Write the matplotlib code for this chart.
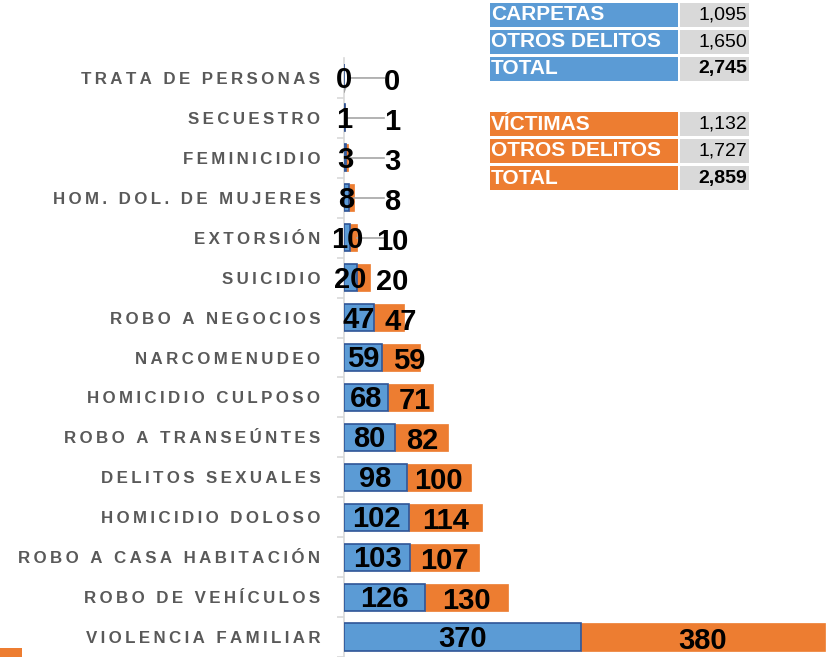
import matplotlib
matplotlib.use("Agg")
import matplotlib.pyplot as plt
from matplotlib.patches import Rectangle
import numpy as np

categorias = ["VIOLENCIA FAMILIAR", "ROBO DE VEHÍCULOS", "ROBO A CASA HABITACIÓN",
              "HOMICIDIO DOLOSO", "DELITOS SEXUALES", "ROBO A TRANSEÚNTES",
              "HOMICIDIO CULPOSO", "NARCOMENUDEO", "ROBO A NEGOCIOS", "SUICIDIO",
              "EXTORSIÓN", "HOM. DOL. DE MUJERES", "FEMINICIDIO", "SECUESTRO",
              "TRATA DE PERSONAS"]
carpetas = [370, 126, 103, 102, 98, 80, 68, 59, 47, 20, 10, 8, 3, 1, 0]
victimas = [380, 130, 107, 114, 100, 82, 71, 59, 47, 20, 10, 8, 3, 1, 0]

tabla_carpetas = [("CARPETAS", "1,095"), ("OTROS DELITOS", "1,650"), ("TOTAL", "2,745")]
tabla_victimas = [("VÍCTIMAS", "1,132"), ("OTROS DELITOS", "1,727"), ("TOTAL", "2,859")]

AZUL = "#5b9bd5"
NARANJA = "#ed7d31"
GRIS = "#595959"

fig = plt.figure(figsize=(8.26, 6.57), dpi=100)
ax = fig.add_axes([344 / 826, 0.0, 482 / 826, 1 - 58 / 657])

y = np.arange(len(categorias))
c = np.array(carpetas)
v = np.array(victimas)
ax.barh(y, c, height=0.68, color=AZUL, edgecolor="#2f5597", linewidth=1.2, zorder=3)
ax.barh(y, v, left=c, height=0.68, color=NARANJA, edgecolor=NARANJA, linewidth=0.5, zorder=2)

ax.set_xlim(0, 752)
ax.set_ylim(-0.42, len(categorias) - 0.5)

num_kw = dict(fontsize=21, fontweight="bold", family="Liberation Sans",
              color="black", zorder=5)
for i in range(len(categorias)):
    ax.text(c[i] / 2, y[i] - 0.05, str(carpetas[i]), ha="center", va="center", **num_kw)
    xc = c[i] + v[i] / 2
    if v[i] <= 20:
        xl = 75
        if v[i] <= 10:
            ax.plot([c[i] + v[i], c[i] + v[i] + 8, xl - 12],
                    [y[i] - 0.35 * (v[i] == 0), y[i], y[i]],
                    color="#a6a6a6", linewidth=1.2, zorder=4)
    else:
        xl = max(xc, c[i] + 42)
    ax.text(xl, y[i] - 0.1, str(victimas[i]), ha="center", va="center", **num_kw)

ax.set_yticks(y - 0.5, minor=False)
ax.set_yticklabels([])
ax.tick_params(axis="y", length=5, color="#d9d9d9", width=1.2, direction="out")
ax.set_yticks(y, minor=True)
ax.set_yticklabels(["\u2009".join(list(s)) for s in categorias], minor=True,
                   fontsize=12.2, fontweight="bold", color=GRIS, family="Liberation Sans")
ax.tick_params(axis="y", which="minor", length=0, pad=17)
ax.set_xticks([])
for s in ["top", "right", "bottom"]:
    ax.spines[s].set_visible(False)
ax.spines["left"].set_color("#d9d9d9")
ax.spines["left"].set_linewidth(1.2)


def dibujar_tabla(filas, color, top):
    h = 24 / 657
    paso = 27 / 657
    for k, (nombre, valor) in enumerate(filas):
        y0 = 1 - (top + 24) / 657 - k * paso
        fig.patches.append(Rectangle((490 / 826, y0), 188 / 826, h, transform=fig.transFigure,
                                     facecolor=color, edgecolor="none"))
        fig.patches.append(Rectangle((680 / 826, y0), 69 / 826, h, transform=fig.transFigure,
                                     facecolor="#d9d9d9", edgecolor="none"))
        fig.text(491 / 826, y0 + h / 2, nombre, color="white", fontsize=15,
                 fontweight="bold", family="Liberation Sans", va="center", ha="left")
        fig.text(747 / 826, y0 + h / 2, valor, color="black", fontsize=14,
                 fontweight="bold" if nombre == "TOTAL" else "normal",
                 family="Liberation Sans", va="center", ha="right")


dibujar_tabla(tabla_carpetas, AZUL, 3)
dibujar_tabla(tabla_victimas, NARANJA, 112)

# trozo de la leyenda abajo a la izquierda
fig.patches.append(Rectangle((0, 0), 22 / 826, 9 / 657, transform=fig.transFigure,
                             facecolor=NARANJA, edgecolor="none"))

fig.savefig("out.png", dpi=100)
